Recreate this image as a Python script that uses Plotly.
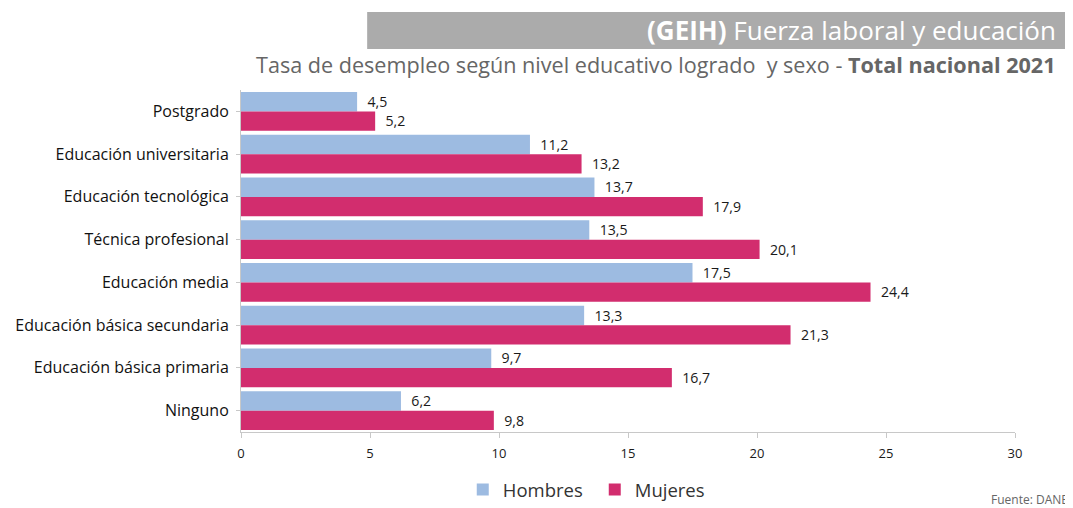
import plotly.graph_objects as go

categories = ["Postgrado", "Educación universitaria", "Educación tecnológica",
              "Técnica profesional", "Educación media", "Educación básica secundaria",
              "Educación básica primaria", "Ninguno"]
hombres = [4.5, 11.2, 13.7, 13.5, 17.5, 13.3, 9.7, 6.2]
mujeres = [5.2, 13.2, 17.9, 20.1, 24.4, 21.3, 16.7, 9.8]
x_ticks = [0, 5, 10, 15, 20, 25, 30]

FONT = "Open Sans"

fig = go.Figure()
fig.add_trace(go.Bar(
    y=categories, x=hombres, name="Hombres", orientation="h",
    marker=dict(color="#9DBBE1", line=dict(width=0)),
    texttemplate="  %{x:.1f}", textposition="outside", cliponaxis=False,
    textfont=dict(family=FONT, size=16, color="#1a1a1a"),
))
fig.add_trace(go.Bar(
    y=categories, x=mujeres, name="Mujeres", orientation="h",
    marker=dict(color="#D22D6E", line=dict(width=0)),
    texttemplate="  %{x:.1f}", textposition="outside", cliponaxis=False,
    textfont=dict(family=FONT, size=16, color="#1a1a1a"),
))

fig.update_layout(
    width=1065, height=500,
    margin=dict(l=233, r=58, t=82, b=76),
    paper_bgcolor="white", plot_bgcolor="white",
    barmode="group", bargap=0.09, bargroupgap=0,
    separators=",.",
    font=dict(family=FONT, color="#1a1a1a"),
    showlegend=True,
    legend=dict(orientation="h", xref="container", yref="container",
                x=0.427, y=0.036, xanchor="left", yanchor="middle",
                font=dict(family=FONT, size=18.5, color="#333333"),
                entrywidth=87, entrywidthmode="pixels", itemwidth=30),
    xaxis=dict(range=[0, 30], tickvals=x_ticks, ticktext=[str(v) for v in x_ticks],
               automargin=False,
               showgrid=False, zeroline=False, showline=True, linecolor="#c8c8c8",
               linewidth=1, ticks="outside", ticklen=5, tickcolor="#c8c8c8",
               ticklabelstandoff=4,
               tickfont=dict(family=FONT, size=13, color="#1a1a1a"), fixedrange=True),
    yaxis=dict(autorange="reversed", automargin=False,
               showgrid=False, showline=True, linecolor="#c8c8c8",
               linewidth=1, ticks="outside", ticklen=4, tickcolor="#c8c8c8",
               tickfont=dict(family=FONT, size=16, color="#111111"), ticklabelstandoff=4),
    shapes=[dict(type="rect", xref="paper", yref="paper",
                 x0=0.163, x1=1.071, y0=1.12, y1=1.228,
                 fillcolor="#ABABAB", line=dict(width=0), layer="above")],
    annotations=[
        dict(xref="paper", yref="paper", x=1.056, y=1.175, xanchor="right", yanchor="middle",
             text="<b>(GEIH)</b> Fuerza laboral y educación", showarrow=False,
             font=dict(family=FONT, size=26, color="white")),
        dict(xref="paper", yref="paper", x=1.056, y=1.076, xanchor="right", yanchor="middle",
             text="Tasa de desempleo según nivel educativo logrado  y sexo - <b>Total nacional 2021</b>",
             showarrow=False, font=dict(family=FONT, size=21.6, color="#666666")),
        dict(xref="paper", yref="paper", x=1.071, y=-0.197, xanchor="right", yanchor="middle",
             text="Fuente: DANE", showarrow=False,
             font=dict(family=FONT, size=12, color="#666666")),
    ],
)

fig.write_html("out.html")
